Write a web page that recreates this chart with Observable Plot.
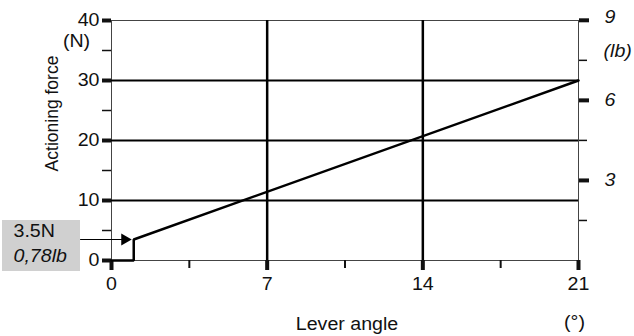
<!DOCTYPE html>
<html><head><meta charset="utf-8">
<script src="https://cdn.jsdelivr.net/npm/d3@7"></script>
<script src="https://cdn.jsdelivr.net/npm/@observablehq/plot@0.6"></script>
<style>
html,body{margin:0;padding:0;background:#fff;}
</style>
</head><body><div id="chart"></div>
<script>
// ---- data ----
const angle = [0, 1, 1, 21];          // lever angle (°)
const force = [0, 0, 3.5, 30];        // actioning force (N)
const xMajor = [0, 7, 14, 21];
const xMinor = [3.5, 10.5, 17.5];
const yMajor = [0, 10, 20, 30, 40];
const yMinor = [5, 15, 25, 35];
const lbMajor = [3, 6, 9];
const lbMinor = [1.5, 4.5, 7.5];
const gridX = [7, 14];
const gridY = [10, 20, 30];
const N_PER_LB = 4.448;
const calloutAngle = 1;
const calloutForce = 3.5;
const calloutLines = ["3.5N", "0,78lb"];
const yUnit = "(N)", lbUnit = "(lb)", xUnit = "(°)";
const yTitle = "Actioning force", xTitle = "Lever angle";

const FONT = "'Liberation Sans', Arial, Helvetica, sans-serif";
const FS = 17.5;
const STRETCH = 1.12;

const rows = angle.map((a, i) => ({angle: a, force: force[i]}));
const blank = () => "";
const lbTop = lbMajor.filter(v => v === 9);
const lbRest = lbMajor.filter(v => v !== 9);

const plot = Plot.plot({
  width: 634, height: 336,
  marginLeft: 111, marginRight: 56, marginTop: 20, marginBottom: 76,
  style: {fontFamily: FONT, fontSize: FS + "px", background: "white", color: "#111", overflow: "visible"},
  x: {domain: [0, 21], axis: null},
  y: {domain: [0, 40], axis: null},
  marks: [
    // callout box
    Plot.rect([calloutForce], {x1: 0, x2: 0, y1: d => d, y2: d => d,
      insetLeft: -109, insetRight: 31, insetTop: -19, insetBottom: -32, fill: "#d0d0d0"}),
    Plot.frame({stroke: "#444", strokeWidth: 1}),
    Plot.ruleY(gridY, {stroke: "black", strokeWidth: 2}),
    Plot.ruleX(gridX, {stroke: "black", strokeWidth: 2.5}),
    // ticks
    Plot.axisY(yMajor, {anchor: "left", tickSize: 9, strokeWidth: 4, tickFormat: blank, label: null}),
    Plot.axisY(yMinor, {anchor: "left", tickSize: 9, strokeWidth: 1.5, tickFormat: blank, label: null}),
    Plot.axisX(xMajor, {anchor: "bottom", tickSize: 10, strokeWidth: 4, tickFormat: blank, label: null}),
    Plot.axisX(xMinor, {anchor: "bottom", tickSize: 8, strokeWidth: 2, tickFormat: blank, label: null}),
    Plot.axisY(lbMajor.map(v => v * N_PER_LB), {anchor: "right", tickSize: 10, strokeWidth: 4, tickFormat: blank, label: null}),
    Plot.axisY(lbMinor.map(v => v * N_PER_LB), {anchor: "right", tickSize: 8, strokeWidth: 1.5, tickFormat: blank, label: null}),
    // data line
    Plot.line(rows, {x: "angle", y: "force", stroke: "black", strokeWidth: 2.5, strokeLinejoin: "miter"}),
    // arrow
    Plot.arrow([calloutForce], {x1: 0, x2: calloutAngle, y1: d => d, y2: d => d,
      insetStart: -31, insetEnd: 9, headLength: 0, stroke: "black", strokeWidth: 1}),
    Plot.dot([calloutForce], {x: calloutAngle, y: d => d, dx: -9, symbol: "triangle", rotate: 90, r: 4.5, fill: "black", stroke: "none"}),
    // tick labels
    Plot.text(yMajor, {x: 0, y: d => d, text: d => String(d), dx: -12, textAnchor: "end", lineAnchor: "middle"}),
    Plot.text([yUnit], {x: 0, y: 40, dx: -35, dy: 21, textAnchor: "middle", lineAnchor: "middle"}),
    Plot.text(xMajor, {x: d => d, y: 0, text: d => String(d), dy: 24, textAnchor: "middle", lineAnchor: "middle"}),
    Plot.text(lbRest, {x: 21, y: d => d * N_PER_LB, text: d => String(d), dx: 26, textAnchor: "start", lineAnchor: "middle", fontStyle: "italic"}),
    Plot.text(lbTop, {x: 21, y: d => d * N_PER_LB, text: d => String(d), dx: 26, dy: -3, textAnchor: "start", lineAnchor: "middle", fontStyle: "italic"}),
    Plot.text([lbUnit], {x: 21, y: 9 * N_PER_LB, dx: 25, dy: 31, textAnchor: "start", lineAnchor: "middle", fontStyle: "italic"}),
    // titles
    Plot.text([yTitle], {frameAnchor: "left", dx: -59, dy: -27, rotate: -90, textAnchor: "middle", lineAnchor: "middle"}),
    Plot.text([xTitle], {frameAnchor: "bottom", dx: 2, dy: 64, textAnchor: "middle", lineAnchor: "middle"}),
    Plot.text([xUnit], {x: 21, y: 0, dx: -4, dy: 62, textAnchor: "middle", lineAnchor: "middle"}),
    // callout text
    Plot.text([calloutLines[0]], {x: 0, y: calloutForce, dx: -98, dy: -8, textAnchor: "start", lineAnchor: "middle"}),
    Plot.text([calloutLines[1]], {x: 0, y: calloutForce, dx: -98, dy: 17, textAnchor: "start", lineAnchor: "middle", fontStyle: "italic"})
  ]
});
document.getElementById("chart").appendChild(plot);

// horizontal stretch of upright text to match the reference's wide lettering
plot.querySelectorAll("text").forEach(t => {
  const tr = t.getAttribute("transform") || "";
  const parentTr = (t.parentNode.getAttribute && t.parentNode.getAttribute("transform")) || "";
  if (/rotate/.test(tr) || /rotate/.test(parentTr)) return;
  const len = t.getComputedTextLength();
  if (len > 0) {
    t.setAttribute("textLength", (len * STRETCH).toFixed(2));
    t.setAttribute("lengthAdjust", "spacingAndGlyphs");
  }
});
</script>
</body></html>
